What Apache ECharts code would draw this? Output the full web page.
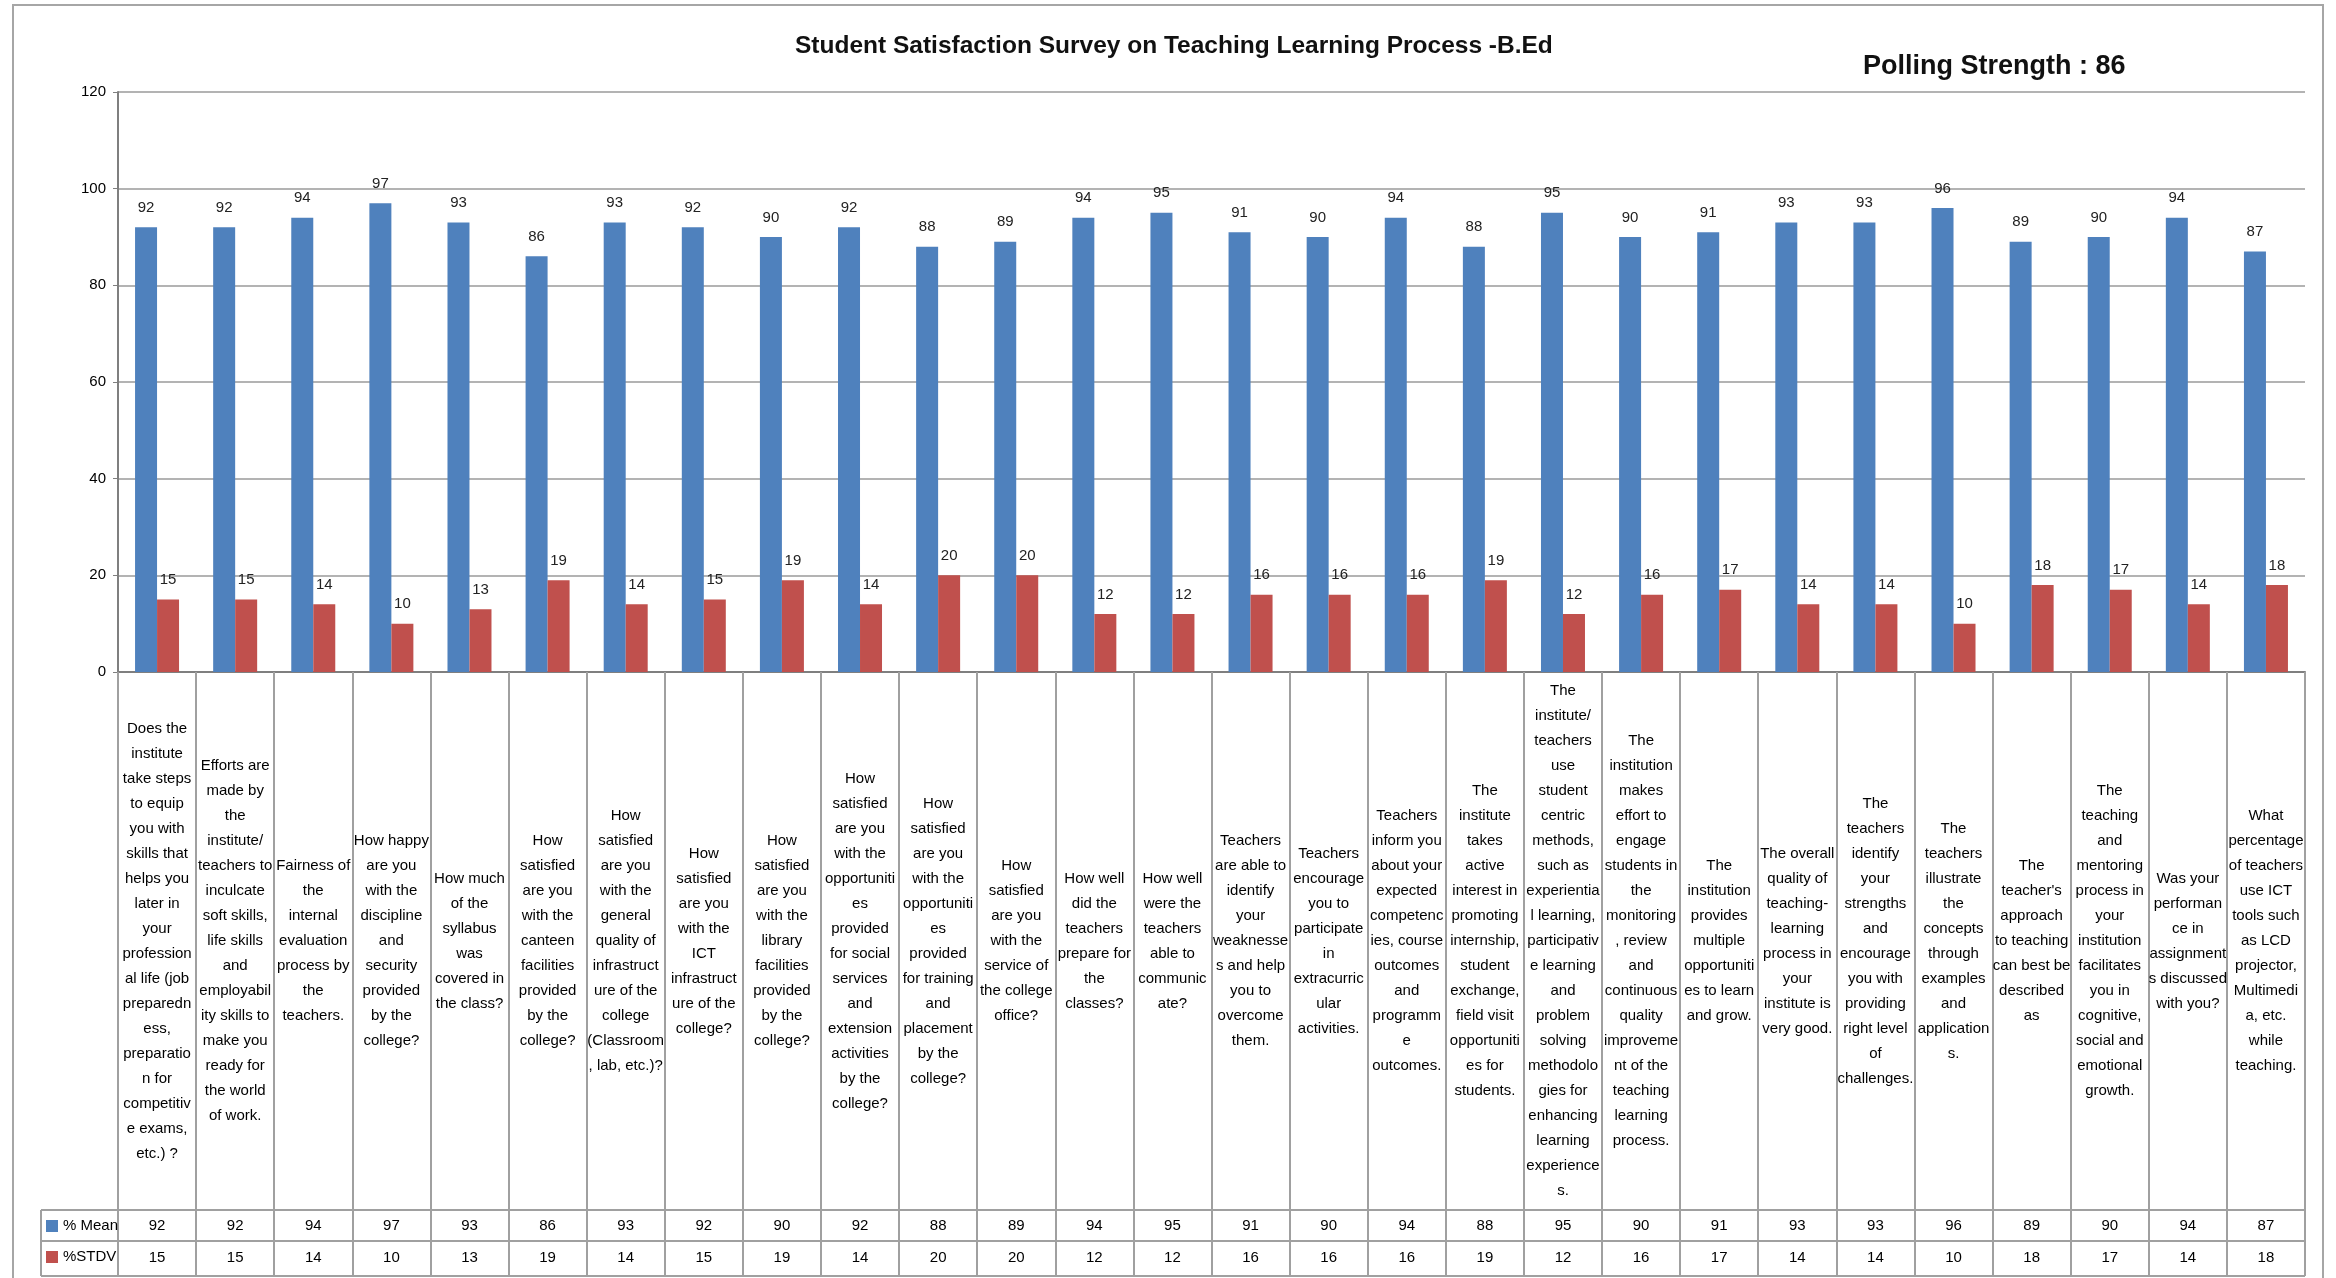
<!DOCTYPE html>
<html lang="en">

<head>
    <meta charset="UTF-8">
    <title>Student Satisfaction Survey</title>
    <script src="https://cdn.jsdelivr.net/npm/echarts@6/dist/echarts.min.js"></script>
    <style>
        html,
        body {
            margin: 0;
            padding: 0;
            background-color: #fff;
        }

        #chart {
            width: 2336px;
            height: 1278px;
        }
    </style>
</head>

<body>
    <div id="chart"></div>
    <script>
        // questions, wrapped the same way as the table cells
        const categories = [
            'Does the\ninstitute\ntake steps\nto equip\nyou with\nskills that\nhelps you\nlater in\nyour\nprofession\nal life (job\npreparedn\ness,\npreparatio\nn for\ncompetitiv\ne exams,\netc.) ?',
            'Efforts are\nmade by\nthe\ninstitute/\nteachers to\ninculcate\nsoft skills,\nlife skills\nand\nemployabil\nity skills to\nmake you\nready for\nthe world\nof work.',
            'Fairness of\nthe\ninternal\nevaluation\nprocess by\nthe\nteachers.',
            'How happy\nare you\nwith the\ndiscipline\nand\nsecurity\nprovided\nby the\ncollege?',
            'How much\nof the\nsyllabus\nwas\ncovered in\nthe class?',
            'How\nsatisfied\nare you\nwith the\ncanteen\nfacilities\nprovided\nby the\ncollege?',
            'How\nsatisfied\nare you\nwith the\ngeneral\nquality of\ninfrastruct\nure of the\ncollege\n(Classroom\n, lab, etc.)?',
            'How\nsatisfied\nare you\nwith the\nICT\ninfrastruct\nure of the\ncollege?',
            'How\nsatisfied\nare you\nwith the\nlibrary\nfacilities\nprovided\nby the\ncollege?',
            'How\nsatisfied\nare you\nwith the\nopportuniti\nes\nprovided\nfor social\nservices\nand\nextension\nactivities\nby the\ncollege?',
            'How\nsatisfied\nare you\nwith the\nopportuniti\nes\nprovided\nfor training\nand\nplacement\nby the\ncollege?',
            'How\nsatisfied\nare you\nwith the\nservice of\nthe college\noffice?',
            'How well\ndid the\nteachers\nprepare for\nthe\nclasses?',
            'How well\nwere the\nteachers\nable to\ncommunic\nate?',
            'Teachers\nare able to\nidentify\nyour\nweaknesse\ns and help\nyou to\novercome\nthem.',
            'Teachers\nencourage\nyou to\nparticipate\nin\nextracurric\nular\nactivities.',
            'Teachers\ninform you\nabout your\nexpected\ncompetenc\nies, course\noutcomes\nand\nprogramm\ne\noutcomes.',
            'The\ninstitute\ntakes\nactive\ninterest in\npromoting\ninternship,\nstudent\nexchange,\nfield visit\nopportuniti\nes for\nstudents.',
            'The\ninstitute/\nteachers\nuse\nstudent\ncentric\nmethods,\nsuch as\nexperientia\nl learning,\nparticipativ\ne learning\nand\nproblem\nsolving\nmethodolo\ngies for\nenhancing\nlearning\nexperience\ns.',
            'The\ninstitution\nmakes\neffort to\nengage\nstudents in\nthe\nmonitoring\n, review\nand\ncontinuous\nquality\nimproveme\nnt of the\nteaching\nlearning\nprocess.',
            'The\ninstitution\nprovides\nmultiple\nopportuniti\nes to learn\nand grow.',
            'The overall\nquality of\nteaching-\nlearning\nprocess in\nyour\ninstitute is\nvery good.',
            'The\nteachers\nidentify\nyour\nstrengths\nand\nencourage\nyou with\nproviding\nright level\nof\nchallenges.',
            'The\nteachers\nillustrate\nthe\nconcepts\nthrough\nexamples\nand\napplication\ns.',
            'The\nteacher\'s\napproach\nto teaching\ncan best be\ndescribed\nas',
            'The\nteaching\nand\nmentoring\nprocess in\nyour\ninstitution\nfacilitates\nyou in\ncognitive,\nsocial and\nemotional\ngrowth.',
            'Was your\nperforman\nce in\nassignment\ns discussed\nwith you?',
            'What\npercentage\nof teachers\nuse ICT\ntools such\nas LCD\nprojector,\nMultimedi\na, etc.\nwhile\nteaching.'
        ];

        const meanValues = [92, 92, 94, 97, 93, 86, 93, 92, 90, 92, 88, 89, 94, 95, 91, 90, 94, 88, 95, 90, 91, 93, 93, 96, 89, 90, 94, 87];
        const stdvValues = [15, 15, 14, 10, 13, 19, 14, 15, 19, 14, 20, 20, 12, 12, 16, 16, 16, 19, 12, 16, 17, 14, 14, 10, 18, 17, 14, 18];

        const seriesNames = ['% Mean', '%STDV'];
        const seriesColors = ['#4F81BD', '#C0504D'];

        const FONT = 'Liberation Sans';
        const LINE = '#a0a0a0';

        // plot area in page pixels
        const plotLeft = 118, plotRight = 2305, plotTop = 92, plotBottom = 672;
        const rowTop = 1210, rowMid = 1241, rowBottom = 1276, tableLeft = 41;

        const chart = echarts.init(document.getElementById('chart'));

        const valueRowAxis = function (values, offset) {
            return {
                type: 'category',
                data: categories,
                position: 'bottom',
                offset: offset,
                axisLine: { show: false },
                axisTick: { show: false },
                axisLabel: {
                    interval: 0,
                    margin: 16,
                    verticalAlign: 'middle',
                    fontFamily: FONT,
                    fontSize: 15,
                    color: '#000',
                    formatter: function (v, i) { return String(values[i]); }
                }
            };
        };

        const barLabel = {
            show: true,
            position: 'top',
            distance: 12,
            fontFamily: FONT,
            fontSize: 15,
            color: '#222'
        };

        chart.setOption({
            animation: false,
            title: [
                {
                    text: 'Student Satisfaction Survey on Teaching Learning Process -B.Ed',
                    left: 790,
                    top: 29,
                    textStyle: { fontFamily: FONT, fontSize: 24.5, fontWeight: 'bold', color: '#111' }
                },
                {
                    text: 'Polling Strength : 86',
                    left: 1858,
                    top: 48,
                    textStyle: { fontFamily: FONT, fontSize: 27, fontWeight: 'bold', color: '#111' }
                }
            ],
            legend: {
                orient: 'vertical',
                left: 46,
                top: 1218,
                padding: 0,
                itemWidth: 12,
                itemHeight: 12,
                itemGap: 15,
                icon: 'rect',
                data: seriesNames,
                textStyle: { fontFamily: FONT, fontSize: 15, lineHeight: 16, color: '#000' }
            },
            grid: {
                left: plotLeft,
                right: 2336 - plotRight,
                top: plotTop,
                bottom: 1278 - plotBottom
            },
            xAxis: [
                {
                    type: 'category',
                    data: categories,
                    axisLine: { lineStyle: { color: '#7f7f7f', width: 2 } },
                    // long ticks make the column borders of the data table
                    axisTick: {
                        show: true,
                        length: rowBottom - plotBottom,
                        lineStyle: { color: LINE, width: 2 }
                    },
                    axisLabel: {
                        interval: 0,
                        margin: (rowTop - plotBottom) / 2,
                        verticalAlign: 'middle',
                        align: 'center',
                        lineHeight: 25,
                        fontFamily: FONT,
                        fontSize: 15,
                        color: '#000'
                    }
                },
                valueRowAxis(meanValues, rowTop - plotBottom),
                valueRowAxis(stdvValues, rowMid - plotBottom + 1)
            ],
            yAxis: {
                type: 'value',
                min: 0,
                max: 120,
                interval: 20,
                axisLine: { show: true, lineStyle: { color: '#7f7f7f', width: 2 } },
                axisTick: { show: true, length: 5, lineStyle: { color: '#7f7f7f' } },
                axisLabel: { margin: 12, fontFamily: FONT, fontSize: 15, color: '#000' },
                splitLine: { lineStyle: { color: '#9a9a9a', width: 1.5 } }
            },
            series: [
                {
                    name: seriesNames[0],
                    type: 'bar',
                    data: meanValues,
                    barWidth: 22,
                    barGap: '0%',
                    itemStyle: { color: seriesColors[0] },
                    label: barLabel
                },
                {
                    name: seriesNames[1],
                    type: 'bar',
                    data: stdvValues,
                    barWidth: 22,
                    barGap: '0%',
                    itemStyle: { color: seriesColors[1] },
                    label: barLabel
                }
            ],
            // outer frame and the row borders of the data table
            graphic: [
                {
                    type: 'rect',
                    shape: { x: 13, y: 5, width: 2310, height: 1290 },
                    style: { fill: 'none', stroke: '#a6a6a6', lineWidth: 2 },
                    silent: true
                },
                { type: 'line', shape: { x1: tableLeft, y1: rowTop, x2: plotRight, y2: rowTop }, style: { stroke: LINE, lineWidth: 2 } },
                { type: 'line', shape: { x1: tableLeft, y1: rowMid, x2: plotRight, y2: rowMid }, style: { stroke: LINE, lineWidth: 2 } },
                { type: 'line', shape: { x1: tableLeft, y1: rowBottom, x2: plotRight, y2: rowBottom }, style: { stroke: LINE, lineWidth: 2 } },
                { type: 'line', shape: { x1: tableLeft, y1: rowTop, x2: tableLeft, y2: rowBottom }, style: { stroke: LINE, lineWidth: 2 } }
            ]
        });
    </script>
</body>

</html>
